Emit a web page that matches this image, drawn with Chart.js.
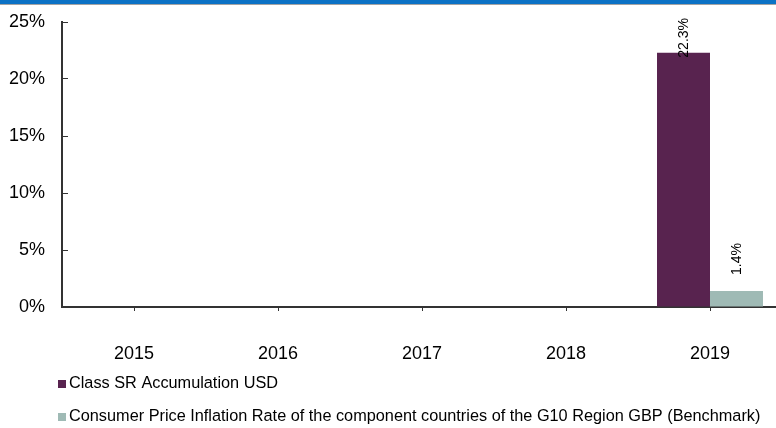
<!DOCTYPE html>
<html>
<head>
<meta charset="utf-8">
<script src="https://cdn.jsdelivr.net/npm/chart.js@4.4.1/dist/chart.umd.min.js"></script>
<style>
  html, body { margin: 0; padding: 0; overflow: hidden; background: #fff; width: 776px; height: 428px; }
  #wrap { position: absolute; left: 0; top: 0; width: 782px; height: 428px; }
  #topbar { position: absolute; left: 0; top: 0; width: 776px; height: 4px; background: #0b72c5; z-index: 2; }
  #topline { position: absolute; left: 0; top: 4px; width: 776px; height: 1px; background: #a3a3a3; z-index: 2; }
</style>
</head>
<body>
<div id="topbar"></div>
<div id="topline"></div>
<div id="wrap"><canvas id="c" width="782" height="428"></canvas></div>
<script>
const categories = ['2015', '2016', '2017', '2018', '2019'];
const seriesNames = [
  'Class SR Accumulation USD',
  'Consumer Price Inflation Rate of the component countries of the G10 Region GBP (Benchmark)'
];
const fundValues = [null, null, null, null, 22.3];
const benchmarkValues = [null, null, null, null, 1.4];
const yTicks = [0, 5, 10, 15, 20, 25];

const FONT = '"Liberation Sans", Arial, sans-serif';
const colors = ['#58234f', '#9fbab5'];

const valueLabels = {
  id: 'valueLabels',
  afterDatasetsDraw(chart) {
    const ctx = chart.ctx;
    const top = chart.chartArea.top;
    ctx.save();
    ctx.font = '14px ' + FONT;
    ctx.fillStyle = '#000';
    ctx.textAlign = 'left';
    ctx.textBaseline = 'middle';
    chart.data.datasets.forEach((ds, di) => {
      const meta = chart.getDatasetMeta(di);
      meta.data.forEach((el, i) => {
        const v = ds.data[i];
        if (v === null || v === undefined) return;
        const txt = v.toFixed(1) + '%';
        const w = ctx.measureText(txt).width;
        let bottom = el.y - 16;
        if (bottom - w < top - 4) bottom = top - 4 + w;
        ctx.save();
        ctx.translate(el.x + 1, bottom);
        ctx.rotate(-Math.PI / 2);
        ctx.fillText(txt, 0, 0);
        ctx.restore();
      });
    });
    ctx.restore();
  }
};

const customLegend = {
  id: 'customLegend',
  afterDraw(chart) {
    const ctx = chart.ctx;
    const base = chart.chartArea.bottom;
    const rows = [base + 77, base + 110];
    ctx.save();
    ctx.font = '16.3px ' + FONT;
    ctx.textAlign = 'left';
    ctx.textBaseline = 'middle';
    chart.data.datasets.forEach((ds, i) => {
      const y = rows[i];
      ctx.fillStyle = ds.backgroundColor;
      ctx.fillRect(58, Math.round(y) - 4, 8, 8);
      ctx.fillStyle = '#000';
      ctx.fillText(ds.label, 69, y);
    });
    ctx.restore();
  }
};

new Chart(document.getElementById('c'), {
  type: 'bar',
  data: {
    labels: categories,
    datasets: [
      { label: seriesNames[0], data: fundValues, backgroundColor: colors[0], borderWidth: 0 },
      { label: seriesNames[1], data: benchmarkValues, backgroundColor: colors[1], borderWidth: 0 }
    ]
  },
  options: {
    responsive: false,
    animation: false,
    devicePixelRatio: 1,
    categoryPercentage: 0.736,
    barPercentage: 1.0,
    layout: { padding: { left: 4, right: 0, top: 22, bottom: 63 } },
    plugins: {
      legend: { display: false },
      tooltip: { enabled: false }
    },
    scales: {
      x: {
        offset: true,
        grid: { display: true, drawOnChartArea: false, drawTicks: true, tickLength: 4, offset: false, color: '#333', lineWidth: 1 },
        border: { display: true, color: '#333', width: 2 },
        ticks: { color: '#000', font: { family: FONT, size: 18 }, padding: 32.5, maxRotation: 0, autoSkip: false },
        afterFit(s) { s.height = 58; }
      },
      y: {
        min: 0,
        max: 25,
        grid: { display: true, drawOnChartArea: false, drawTicks: true, tickLength: -6, color: '#333', lineWidth: 1 },
        border: { display: true, color: '#333', width: 2 },
        afterBuildTicks(s) { s.ticks = yTicks.map(v => ({ value: v })); },
        ticks: { color: '#000', font: { family: FONT, size: 18 }, padding: 23, callback: v => v + '%' },
        afterFit(s) { s.width = 58; s.paddingTop = 0; s.paddingBottom = 0; }
      }
    }
  },
  plugins: [valueLabels, customLegend]
});
</script>
</body>
</html>
